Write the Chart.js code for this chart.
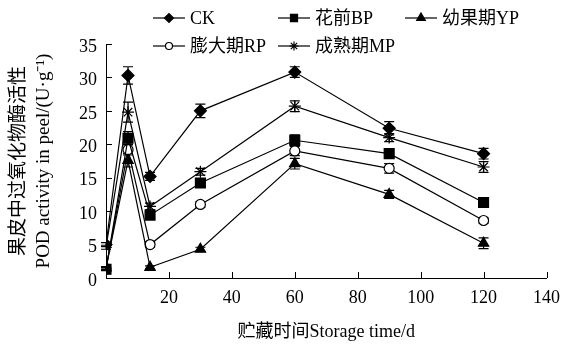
<!DOCTYPE html>
<html>
<head>
<meta charset="utf-8">
<script src="https://cdn.jsdelivr.net/npm/chart.js@4.4.0/dist/chart.umd.min.js"></script>
<style>
  html, body { margin: 0; padding: 0; background: #fff; }
  #wrap { width: 569px; height: 347px; }
</style>
</head>
<body>
<div id="wrap"><canvas id="podChart"></canvas></div>
<script>
// storage days
const days = [0, 7, 14, 30, 60, 90, 120]
// POD activity per treatment
const ck = [5.0, 30.3, 15.2, 25.0, 30.8, 22.4, 18.6]
const bp = [1.3, 20.9, 9.4, 14.2, 20.6, 18.6, 11.3]
const yp = [1.5, 17.6, 1.6, 4.3, 17.1, 12.5, 5.2]
const rp = [1.4, 19.2, 5.0, 11.0, 19.0, 16.4, 8.6]
const mp = [4.6, 24.8, 10.7, 15.9, 25.7, 21.0, 16.6]
// standard errors
const ckErr = [0.3, 1.3, 0.6, 1.0, 0.8, 1.0, 0.8]
const bpErr = [0.2, 1.0, 0.5, 0.5, 0.8, 0.6, 0.3]
const ypErr = [0.2, 1.0, 0.2, 0.3, 0.8, 0.6, 0.8]
const rpErr = [0.2, 0.8, 0.4, 0.4, 0.7, 0.7, 0.4]
const mpErr = [0.3, 1.5, 0.5, 0.5, 0.8, 0.6, 0.8]

const seriesNames = ['CK', '花前BP', '幼果期YP', '膨大期RP', '成熟期MP']
const xTicks = [20, 40, 60, 80, 100, 120, 140]
const yTicks = [0, 5, 10, 15, 20, 25, 30, 35]

const FONT = "'Liberation Serif', 'Noto Sans CJK SC', serif"

function pts(vals) {
  return vals.map((v, i) => ({ x: days[i], y: v }))
}

function mkSet(label, vals, errs, style, radius, fill) {
  return {
    label: label,
    data: pts(vals),
    errors: errs,
    borderColor: '#000',
    borderWidth: 1.2,
    pointStyle: style,
    pointRadius: radius,
    pointBackgroundColor: fill,
    pointBorderColor: '#000',
    pointBorderWidth: 1.2,
    fill: false,
    tension: 0
  }
}

// vertical error bars with caps
const errorBars = {
  id: 'errorBars',
  beforeDatasetsDraw(chart) {
    const ctx = chart.ctx
    const ys = chart.scales.y
    const xs = chart.scales.x
    ctx.save()
    ctx.strokeStyle = '#000'
    ctx.lineWidth = 1.2
    chart.data.datasets.forEach(ds => {
      ds.data.forEach((p, i) => {
        const e = ds.errors[i]
        const px = xs.getPixelForValue(p.x)
        const top = ys.getPixelForValue(p.y + e)
        const bot = ys.getPixelForValue(p.y - e)
        ctx.beginPath()
        ctx.moveTo(px, top); ctx.lineTo(px, bot)
        ctx.moveTo(px - 5, top); ctx.lineTo(px + 5, top)
        ctx.moveTo(px - 5, bot); ctx.lineTo(px + 5, bot)
        ctx.stroke()
      })
    })
    ctx.restore()
  }
}

// inward tick marks
const innerTicks = {
  id: 'innerTicks',
  afterDraw(chart) {
    const ctx = chart.ctx
    const a = chart.chartArea
    ctx.save()
    ctx.strokeStyle = '#000'
    ctx.lineWidth = 1
    ctx.beginPath()
    xTicks.forEach(t => {
      const px = Math.round(chart.scales.x.getPixelForValue(t)) + 0.5
      ctx.moveTo(px, a.bottom); ctx.lineTo(px, a.bottom - 6)
    })
    yTicks.forEach(t => {
      const py = Math.round(chart.scales.y.getPixelForValue(t)) + 0.5
      ctx.moveTo(a.left, py); ctx.lineTo(a.left + 6, py)
    })
    ctx.stroke()
    ctx.restore()
  }
}

// two-row legend at the top
const topLegend = {
  id: 'topLegend',
  afterDraw(chart) {
    const ctx = chart.ctx
    const spots = [[153, 18], [278, 18], [405, 18], [153, 46], [278, 46]]
    const sizes = [4.5, 5, 5, 3.5, 4.5]
    ctx.save()
    ctx.font = '18px ' + FONT
    ctx.textBaseline = 'middle'
    chart.data.datasets.forEach((ds, i) => {
      const [x, y] = spots[i]
      ctx.strokeStyle = '#000'
      ctx.lineWidth = 1.2
      ctx.beginPath()
      ctx.moveTo(x, y); ctx.lineTo(x + 32, y)
      ctx.stroke()
      ctx.fillStyle = ds.pointBackgroundColor
      Chart.helpers.drawPoint(ctx, {
        pointStyle: ds.pointStyle, radius: sizes[i], rotation: 0, borderWidth: 1.2
      }, x + 16, y)
      ctx.fillStyle = '#000'
      ctx.fillText(seriesNames[i], x + 37, y + 1)
    })
    ctx.restore()
  }
}

const config = {
  type: 'line',
  data: {
    datasets: [
      mkSet(seriesNames[0], ck, ckErr, 'rectRot', 6, '#000'),
      mkSet(seriesNames[1], bp, bpErr, 'rect', 7, '#000'),
      mkSet(seriesNames[2], yp, ypErr, 'triangle', 6, '#000'),
      mkSet(seriesNames[3], rp, rpErr, 'circle', 5, '#fff'),
      mkSet(seriesNames[4], mp, mpErr, 'star', 6, '#fff')
    ]
  },
  options: {
    responsive: true,
    maintainAspectRatio: false,
    animation: false,
    layout: { padding: { left: 0, top: 44, right: 13, bottom: 0 } },
    plugins: {
      legend: { display: false },
      tooltip: { enabled: false }
    },
    scales: {
      x: {
        type: 'linear',
        min: 0,
        max: 140,
        afterFit(s) { s.height = 69 },
        afterBuildTicks(s) { s.ticks = [0].concat(xTicks).map(v => ({ value: v })) },
        grid: { display: false, drawTicks: false },
        border: { display: true, color: '#000', width: 1 },
        ticks: {
          padding: 9,
          color: '#000',
          font: { family: FONT, size: 18 },
          maxRotation: 0,
          callback: v => (v === 0 ? '' : v)
        },
        title: {
          display: true,
          text: '贮藏时间Storage time/d',
          color: '#000',
          font: { family: FONT, size: 18 },
          padding: { top: 9 }
        }
      },
      y: {
        min: 0,
        max: 35,
        afterFit(s) { s.width = 106 },
        afterBuildTicks(s) { s.ticks = yTicks.map(v => ({ value: v })) },
        grid: { display: false, drawTicks: false },
        border: { display: true, color: '#000', width: 1 },
        ticks: {
          padding: 9,
          labelOffset: 3,
          color: '#000',
          font: { family: FONT, size: 18 }
        },
        title: {
          display: true,
          text: ['果皮中过氧化物酶活性', 'POD activity in peel/(U·g⁻¹)'],
          color: '#000',
          font: { family: FONT, size: 19, lineHeight: 1.3 },
          padding: { top: 7, bottom: 0 }
        }
      }
    }
  },
  plugins: [errorBars, innerTicks, topLegend]
}

new Chart(document.getElementById('podChart'), config)
</script>
</body>
</html>
